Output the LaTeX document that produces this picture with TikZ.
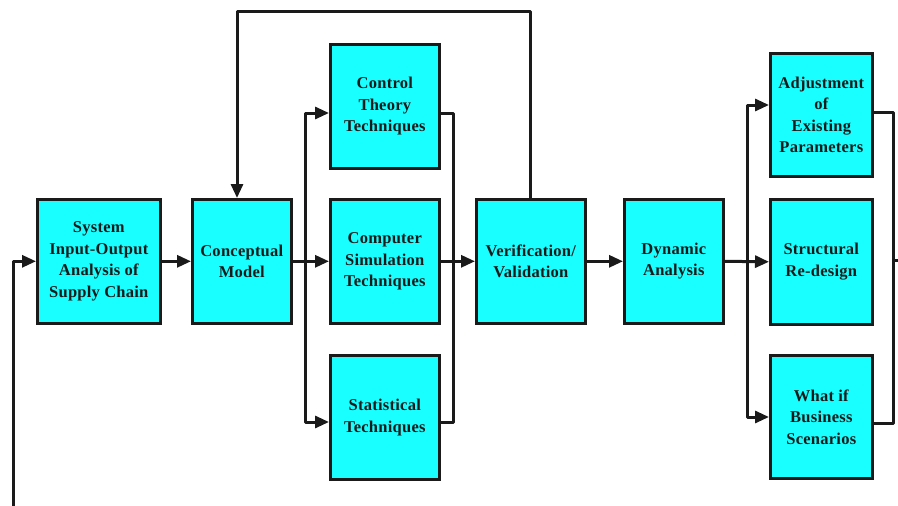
\documentclass[tikz,border=0pt]{standalone}
\usepackage{fontspec}
\setmainfont[LetterSpace=1.5]{Liberation Serif}
\usetikzlibrary{arrows.meta}
\definecolor{ink}{HTML}{1A1A1A}
\definecolor{boxfill}{HTML}{19FFFF}
\begin{document}
\begin{tikzpicture}[x=1pt,y=-1pt,
  blk/.style={draw=ink, line width=2.6pt, fill=boxfill, anchor=north west,
    minimum height=124pt, align=center, inner sep=0pt, text=ink,
    font=\bfseries\fontsize{16.5}{21.5}\selectfont},
  link/.style={draw=ink, line width=3pt, line join=round},
  flow/.style={link, -{Triangle[length=14pt,width=12pt]}}]
\useasboundingbox (0,0) rectangle (898,506);

% process blocks
\node[blk, minimum width=123pt] (sys) at (36,198) {System\\Input-Output\\Analysis of\\Supply Chain};
\node[blk, minimum width=99pt]  (con) at (191,198) {Conceptual\\Model};
\node[blk, minimum width=109pt] (ctl) at (329,43)  {Control\\Theory\\Techniques};
\node[blk, minimum width=109pt] (sim) at (329,198) {Computer\\Simulation\\Techniques};
\node[blk, minimum width=109pt] (sta) at (329,354) {Statistical\\Techniques};
\node[blk, minimum width=109pt] (ver) at (475,198) {Verification/\\Validation};
\node[blk, minimum width=99pt]  (dyn) at (623,198) {Dynamic\\Analysis};
\node[blk, minimum width=102pt, minimum height=123pt] (adj) at (769,52)  {Adjustment\\of\\Existing\\Parameters};
\node[blk, minimum width=102pt, minimum height=125pt] (str) at (769,198) {Structural\\Re-design};
\node[blk, minimum width=102pt, minimum height=123pt] (wif) at (769,354) {What if\\Business\\Scenarios};

% routing points
\coordinate (fbin)  at (13,506);
\coordinate (forkA) at (305,260);
\coordinate (ctlin) at (305,113);
\coordinate (stain) at (305,422);
\coordinate (mergeA) at (453,260);
\coordinate (loopR) at (530,11);
\coordinate (loopL) at (237,11);
\coordinate (forkB) at (747,260);
\coordinate (adjin) at (747,105);
\coordinate (wifin) at (747,417);
\coordinate (adjout) at (893,112);
\coordinate (wifout) at (893,423);
\coordinate (mergeB) at (893,260);
\coordinate (exitB) at (898,260);

% main flow
\draw[flow] (fbin) |- (sys.west);
\draw[flow] (sys.east) -- (con.west);
\draw[flow] (con.east) -- (sim.west);
\draw[flow] (forkA) -- (ctlin) -- (ctlin -| ctl.west);
\draw[flow] (forkA) -- (stain) -- (stain -| sta.west);
\draw[link] (ctlin -| ctl.east) -| (mergeA);
\draw[link] (stain -| sta.east) -| (mergeA);
\draw[flow] (sim.east) -- (ver.west);
\draw[flow] (loopR |- ver.north) -- (loopR) -- (loopL) -- (loopL |- con.north);
\draw[flow] (ver.east) -- (dyn.west);
\draw[flow] (dyn.east) -- (str.west);
\draw[flow] (forkB) -- (adjin) -- (adjin -| adj.west);
\draw[flow] (forkB) -- (wifin) -- (wifin -| wif.west);
\draw[link] (adjout -| adj.east) -- (adjout) -- (mergeB);
\draw[link] (wifout -| wif.east) -- (wifout) -- (mergeB) -- (exitB);
\end{tikzpicture}
\end{document}
